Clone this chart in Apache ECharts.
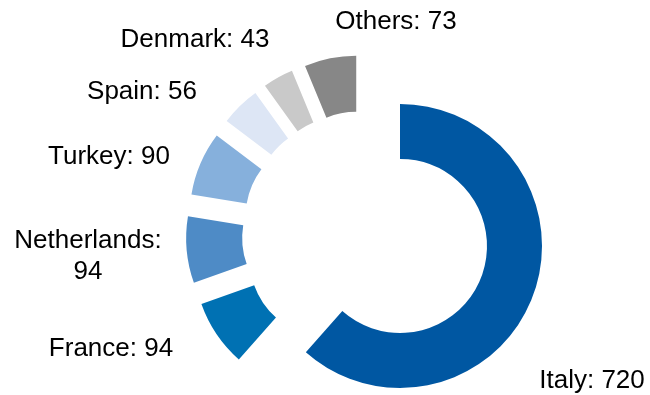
<!DOCTYPE html>
<html>
<head>
<meta charset="utf-8">
<script src="https://cdn.jsdelivr.net/npm/echarts@6/dist/echarts.min.js"></script>
<style>
  html, body { margin: 0; padding: 0; background: #fff; }
  #chart { width: 650px; height: 395px; }
</style>
</head>
<body>
<div id="chart"></div>
<script>
// Market shares by country
const countries = ['Italy', 'France', 'Netherlands', 'Turkey', 'Spain', 'Denmark', 'Others'];
const values = [720, 94, 94, 90, 56, 43, 73];
const colors = ['#0057a2', '#0071b3', '#4e8bc6', '#86b0dc', '#dde6f5', '#c9c9c9', '#878787'];

// Label anchor points (centre of each text block)
const labelPos = [
  [592, 381], [111, 349], [88, 256], [109, 157], [142, 92], [195, 40], [396, 22]
];

const chart = echarts.init(document.getElementById('chart'), null, { renderer: 'canvas' });

function buildData(showIndex) {
  return countries.map((name, i) => {
    const visible = showIndex(i);
    return {
      name: name,
      value: values[i],
      selected: visible && i !== 0,
      itemStyle: { color: colors[i], opacity: visible ? 1 : 0 }
    };
  });
}

function labelText(i) {
  return countries[i] === 'Netherlands'
    ? countries[i] + ':\n' + values[i]
    : countries[i] + ': ' + values[i];
}

const labels = countries.map((name, i) => ({
  type: 'text',
  silent: true,
  style: {
    text: labelText(i),
    x: labelPos[i][0],
    y: labelPos[i][1],
    align: 'center',
    verticalAlign: 'middle',
    fontFamily: 'Liberation Sans, Arial, sans-serif',
    fontSize: 26,
    lineHeight: 31,
    fill: '#000'
  }
}));

chart.setOption({
  animation: false,
  graphic: labels,
  series: [
    {
      // the large segment, drawn on its own ring
      type: 'pie',
      center: [400, 246],
      radius: [87, 142],
      startAngle: 90,
      clockwise: true,
      silent: true,
      label: { show: false },
      labelLine: { show: false },
      emphasis: { disabled: true },
      data: buildData(i => i === 0)
    },
    {
      // smaller segments, each pulled out from the centre
      type: 'pie',
      center: [365, 234],
      radius: [78, 134],
      startAngle: 90,
      clockwise: true,
      silent: true,
      selectedMode: 'multiple',
      selectedOffset: 45,
      label: { show: false },
      labelLine: { show: false },
      emphasis: { disabled: true },
      data: buildData(i => i !== 0)
    }
  ]
});
</script>
</body>
</html>
